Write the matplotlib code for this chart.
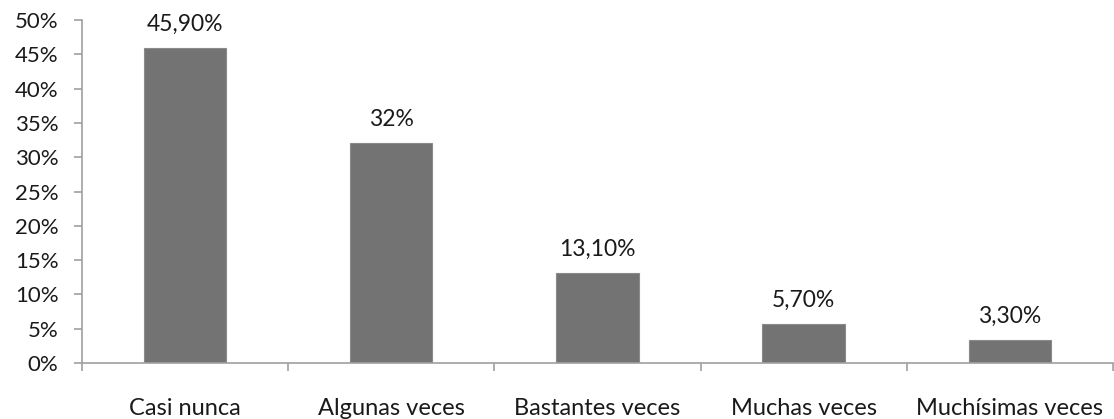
import matplotlib.pyplot as plt
import numpy as np
from matplotlib.ticker import FixedLocator, PercentFormatter

# Datos
categorias = ['Casi nunca', 'Algunas veces', 'Bastantes veces', 'Muchas veces', 'Muchísimas veces']
valores = [45.9, 32, 13.1, 5.7, 3.3]
etiquetas = ['45,90%', '32%', '13,10%', '5,70%', '3,30%']

plt.rcParams['font.family'] = ['Lato', 'DejaVu Sans']

fig = plt.figure(figsize=(11.14, 4.19), dpi=100)
ax = fig.add_axes([0.0736, 0.1337, 0.9254, 0.8185])

x = np.arange(len(categorias))
ax.bar(x, valores, width=0.4, color='#737373', edgecolor='#8a8a8a', linewidth=0.8)

for xi, v, t in zip(x, valores, etiquetas):
    ax.text(xi, v + 1.9, t, ha='center', va='bottom', fontsize=16.5, color='#1a1a1a')

ax.set_ylim(0, 50)
ax.set_xlim(-0.5, len(categorias) - 0.5)
ax.set_yticks(np.arange(0, 51, 5))
ax.yaxis.set_major_formatter(PercentFormatter(decimals=0))

ax.set_xticks(x)
ax.set_xticklabels(categorias)
ax.xaxis.set_minor_locator(FixedLocator(np.arange(-0.5, len(categorias), 1)))
ax.tick_params(axis='x', which='major', length=0, pad=25, labelsize=17, labelcolor='#1a1a1a')
ax.tick_params(axis='x', which='minor', length=6, color='#a0a0a0', width=1.2, direction='out')
ax.tick_params(axis='y', length=6, color='#a0a0a0', width=1.2, labelsize=16, labelcolor='#1a1a1a', pad=11)

for s in ['top', 'right']:
    ax.spines[s].set_visible(False)
for s in ['left', 'bottom']:
    ax.spines[s].set_color('#a0a0a0')
    ax.spines[s].set_linewidth(1.2)

plt.savefig('out.png', dpi=100)
